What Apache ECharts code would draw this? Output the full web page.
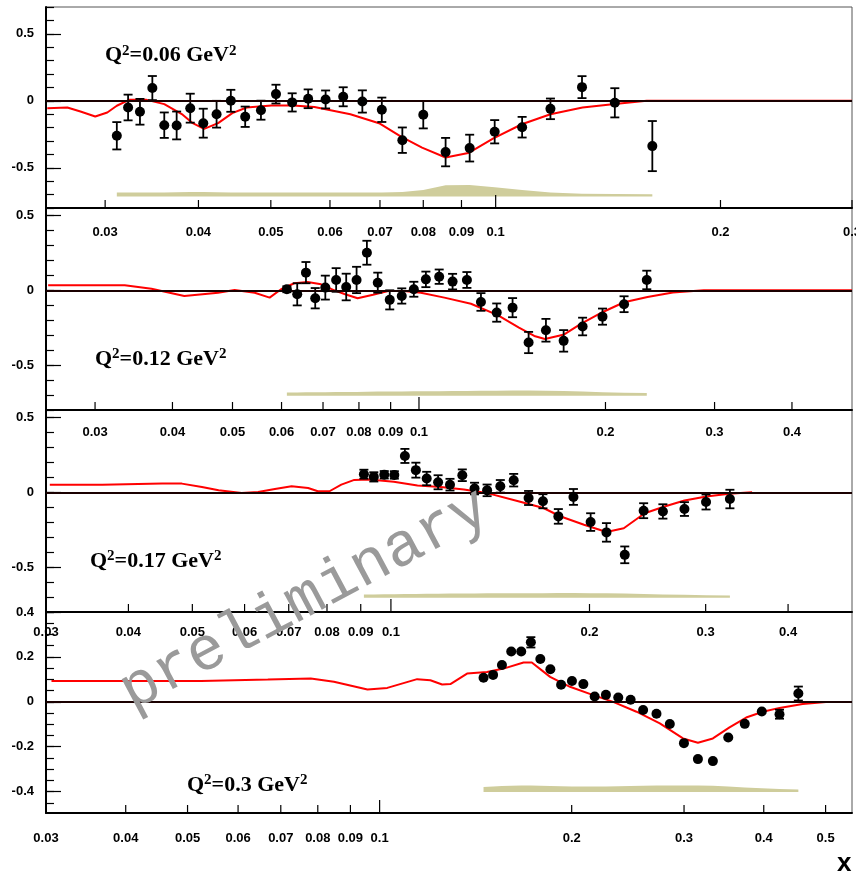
<!DOCTYPE html>
<html>
<head>
<meta charset="utf-8">
<script src="https://cdn.jsdelivr.net/npm/echarts@6/dist/echarts.min.js"></script>
<style>
html, body { margin: 0; padding: 0; background: #fff; }
#chart { width: 856px; height: 875px; }
</style>
</head>
<body>
<div id="chart"></div>
<script>
// ---- Q^2 = 0.06 GeV^2 ----
const P1_X = [0.0311,0.0322,0.0334,0.0347,0.0360,0.0374,0.0390,0.0406,0.0423,0.0442,0.0462,0.0485,0.0508,0.0534,0.0561,0.0592,0.0625,0.0663,0.0704,0.0750,0.0800,0.0857,0.0923,0.0997,0.1085,0.1184,0.1305,0.1444,0.1621];
const P1_Y = [-0.261,-0.050,-0.082,0.095,-0.182,-0.184,-0.055,-0.167,-0.100,0.000,-0.119,-0.070,0.050,-0.012,0.015,0.010,0.030,-0.005,-0.067,-0.294,-0.104,-0.383,-0.353,-0.231,-0.197,-0.060,0.102,-0.015,-0.338];
const P1_ERR = [0.102,0.096,0.096,0.090,0.095,0.104,0.108,0.108,0.100,0.082,0.076,0.071,0.070,0.068,0.070,0.067,0.071,0.083,0.091,0.095,0.102,0.106,0.100,0.087,0.077,0.077,0.082,0.109,0.187];
const P1_CX = [0.0251,0.0267,0.0278,0.0291,0.0302,0.0311,0.0323,0.0341,0.0360,0.0381,0.0393,0.0407,0.0425,0.0444,0.0464,0.0501,0.0536,0.0572,0.0639,0.0698,0.0746,0.0797,0.0857,0.0919,0.0993,0.1084,0.1184,0.1307,0.1444,0.1593,0.3];
const P1_CY = [-0.055,-0.050,-0.080,-0.117,-0.087,-0.037,0.007,0.007,-0.025,-0.104,-0.167,-0.209,-0.167,-0.092,-0.050,-0.035,-0.035,-0.047,-0.100,-0.167,-0.266,-0.350,-0.423,-0.390,-0.280,-0.175,-0.100,-0.050,-0.023,0.000,0.000];
const P1_SYS = [0.03,0.03,0.03,0.03,0.03,0.032,0.035,0.035,0.033,0.03,0.03,0.03,0.03,0.03,0.03,0.03,0.03,0.03,0.03,0.035,0.05,0.085,0.087,0.07,0.05,0.03,0.022,0.02,0.018];
const P1_SYS_BASE = -0.715;

// ---- Q^2 = 0.12 GeV^2 ----
const P2_X = [0.0612,0.0636,0.0657,0.0680,0.0706,0.0735,0.0763,0.0793,0.0824,0.0858,0.0897,0.0938,0.0981,0.1026,0.1078,0.1133,0.1195,0.1259,0.1335,0.1416,0.1503,0.1603,0.1712,0.1837,0.1978,0.2143,0.2332];
const P2_Y = [0.007,-0.027,0.118,-0.053,0.018,0.069,0.022,0.069,0.251,0.051,-0.064,-0.038,0.007,0.073,0.091,0.058,0.069,-0.078,-0.149,-0.116,-0.349,-0.267,-0.338,-0.242,-0.176,-0.093,0.069];
const P2_ERR = [0.020,0.074,0.071,0.068,0.080,0.079,0.089,0.088,0.080,0.067,0.064,0.051,0.050,0.052,0.048,0.052,0.053,0.059,0.061,0.064,0.071,0.076,0.072,0.059,0.054,0.053,0.062];
const P2_CX = [0.0252,0.0335,0.0370,0.0418,0.0474,0.0504,0.0543,0.0574,0.0599,0.0629,0.0661,0.0695,0.0730,0.0758,0.0796,0.0843,0.0895,0.0946,0.1007,0.1099,0.1213,0.1340,0.1450,0.1535,0.1597,0.1716,0.1825,0.1981,0.2143,0.2338,0.2569,0.2882,0.5];
const P2_CY = [0.033,0.033,0.011,-0.038,-0.016,0.002,-0.016,-0.049,0.007,0.047,0.056,0.040,0.000,-0.025,-0.053,-0.030,-0.004,-0.004,-0.017,-0.049,-0.090,-0.166,-0.250,-0.305,-0.325,-0.295,-0.225,-0.145,-0.080,-0.045,-0.015,0.000,0.000];
const P2_SYS = [0.022,0.022,0.023,0.023,0.024,0.025,0.025,0.026,0.027,0.028,0.028,0.029,0.030,0.030,0.031,0.032,0.032,0.033,0.034,0.035,0.035,0.034,0.032,0.028,0.024,0.020,0.018];
const P2_SYS_BASE = -0.705;

// ---- Q^2 = 0.17 GeV^2 ----
const P3_X = [0.0910,0.0942,0.0977,0.1012,0.1050,0.1091,0.1133,0.1179,0.1229,0.1283,0.1339,0.1399,0.1465,0.1535,0.1617,0.1700,0.1794,0.1891,0.2008,0.2122,0.2262,0.2416,0.2584,0.2786,0.3004,0.3265];
const P3_Y = [0.121,0.103,0.117,0.116,0.243,0.148,0.092,0.067,0.051,0.114,0.025,0.013,0.040,0.081,-0.038,-0.060,-0.161,-0.031,-0.199,-0.268,-0.418,-0.123,-0.128,-0.112,-0.065,-0.045];
const P3_ERR = [0.030,0.031,0.025,0.025,0.047,0.050,0.045,0.047,0.039,0.039,0.039,0.039,0.042,0.042,0.047,0.047,0.049,0.053,0.059,0.062,0.056,0.050,0.048,0.046,0.050,0.062];
const P3_CX = [0.0304,0.0365,0.0450,0.0482,0.0517,0.0548,0.0594,0.0629,0.0667,0.0707,0.0749,0.0775,0.0807,0.0841,0.0880,0.0927,0.1010,0.1097,0.1190,0.1290,0.1405,0.1560,0.1703,0.1805,0.1962,0.2122,0.2254,0.2425,0.2599,0.2786,0.3007,0.3257,0.3528];
const P3_CY = [0.051,0.051,0.058,0.058,0.036,0.013,-0.004,0.002,0.022,0.040,0.029,0.007,0.007,0.051,0.083,0.085,0.070,0.045,0.036,0.018,-0.007,-0.060,-0.105,-0.160,-0.217,-0.265,-0.240,-0.140,-0.095,-0.055,-0.028,-0.010,0.000];
const P3_SYS = [0.022,0.022,0.023,0.024,0.025,0.026,0.027,0.027,0.028,0.029,0.029,0.030,0.030,0.030,0.031,0.031,0.032,0.032,0.031,0.030,0.028,0.025,0.022,0.020,0.017,0.015];
const P3_SYS_BASE = -0.705;

// ---- Q^2 = 0.3 GeV^2 ----
const P4_X = [0.1455,0.1506,0.1555,0.1608,0.1667,0.1726,0.1786,0.1852,0.1925,0.2002,0.2086,0.2173,0.2263,0.2366,0.2474,0.2588,0.2716,0.2850,0.2999,0.3154,0.3329,0.3519,0.3735,0.3972,0.4234,0.4532];
const P4_Y = [0.107,0.120,0.164,0.224,0.224,0.265,0.191,0.145,0.076,0.093,0.079,0.024,0.031,0.019,0.009,-0.036,-0.053,-0.099,-0.184,-0.255,-0.264,-0.159,-0.098,-0.043,-0.055,0.037];
const P4_ERR = [0,0,0,0,0,0.023,0,0,0,0,0,0,0,0,0,0,0,0,0,0,0,0,0,0,0.020,0.031];
const P4_CX = [0.0306,0.0525,0.0668,0.0780,0.0848,0.0957,0.1028,0.1145,0.1201,0.1253,0.1291,0.1371,0.1473,0.1564,0.1681,0.1732,0.1850,0.1988,0.2162,0.2323,0.2527,0.2749,0.2989,0.3154,0.3329,0.3535,0.3754,0.3987,0.4234,0.4603,0.5006];
const P4_CY = [0.093,0.093,0.099,0.104,0.089,0.055,0.062,0.101,0.096,0.077,0.079,0.126,0.133,0.148,0.175,0.175,0.111,0.067,0.030,0.000,-0.044,-0.096,-0.163,-0.182,-0.163,-0.114,-0.070,-0.044,-0.027,-0.010,-0.001];
const P4_SYS = [0.022,0.024,0.026,0.027,0.028,0.028,0.027,0.026,0.025,0.024,0.024,0.024,0.024,0.025,0.026,0.027,0.028,0.028,0.028,0.028,0.027,0.024,0.020,0.016,0.013,0.011];
const P4_SYS_BASE = -0.401;

// ---- labels and axis ticks ----
const Q2_LABELS = ['0.06', '0.12', '0.17', '0.3'];
const X_TICKS_1 = [0.03,0.04,0.05,0.06,0.07,0.08,0.09,0.1,0.2,0.3];
const X_TICKS_2 = [0.03,0.04,0.05,0.06,0.07,0.08,0.09,0.1,0.2,0.3,0.4];
const X_TICKS_3 = [0.03,0.04,0.05,0.06,0.07,0.08,0.09,0.1,0.2,0.3,0.4];
const X_TICKS_4 = [0.03,0.04,0.05,0.06,0.07,0.08,0.09,0.1,0.2,0.3,0.4,0.5];
const Y_TICKS_A = [-0.5, 0, 0.5];
const Y_TICKS_B = [-0.4, -0.2, 0, 0.2, 0.4];

function steps(lo, hi, step) {
  const out = [];
  const n = Math.round((hi - lo) / step);
  for (let k = 0; k <= n; k++) out.push(+(lo + k * step).toFixed(4));
  return out;
}

// panel layout (pixels) and axis ranges; qy is the baseline of the Q^2 label
const PANELS = [
  { x: P1_X, y: P1_Y, err: P1_ERR, cx: P1_CX, cy: P1_CY, sys: P1_SYS, sysBase: P1_SYS_BASE,
    xr: [0.025, 0.3], yr: [-0.8, 0.7], xt: X_TICKS_1, yt: Y_TICKS_A, ym: steps(-0.8, 0.7, 0.1),
    top: 7, h: 201, gap: 24, q: Q2_LABELS[0], qx: 105, qy: 62 },
  { x: P2_X, y: P2_Y, err: P2_ERR, cx: P2_CX, cy: P2_CY, sys: P2_SYS, sysBase: P2_SYS_BASE,
    xr: [0.025, 0.5], yr: [-0.8, 0.55], xt: X_TICKS_2, yt: Y_TICKS_A, ym: steps(-0.8, 0.5, 0.1),
    top: 208, h: 202, gap: 22, q: Q2_LABELS[1], qx: 95, qy: 365.5 },
  { x: P3_X, y: P3_Y, err: P3_ERR, cx: P3_CX, cy: P3_CY, sys: P3_SYS, sysBase: P3_SYS_BASE,
    xr: [0.03, 0.5], yr: [-0.8, 0.55], xt: X_TICKS_3, yt: Y_TICKS_A, ym: steps(-0.8, 0.5, 0.1),
    top: 410, h: 202, gap: 20, q: Q2_LABELS[2], qx: 90, qy: 567.5 },
  { x: P4_X, y: P4_Y, err: P4_ERR, cx: P4_CX, cy: P4_CY, sys: P4_SYS, sysBase: P4_SYS_BASE,
    xr: [0.03, 0.55], yr: [-0.495, 0.4], xt: X_TICKS_4, yt: Y_TICKS_B, ym: steps(-0.45, 0.4, 0.05),
    top: 612, h: 201, gap: 25, q: Q2_LABELS[3], qx: 187, qy: 791.5 }
];

const BAND_COLOR = '#cfcd9c';
const FONT_SANS = '"Liberation Sans", Arial, sans-serif';
const FONT_SERIF = '"Liberation Serif", "Times New Roman", serif';

const grids = [], xAxes = [], yAxes = [], series = [], graphics = [];

PANELS.forEach(function (P, i) {
  grids.push({
    left: 46, right: 4, top: P.top, height: P.h,
    show: true, borderColor: '#555', borderWidth: 1, backgroundColor: 'transparent',
    containLabel: false, outerBoundsMode: 'none'
  });
  xAxes.push({
    gridIndex: i, type: 'log', logBase: 10, min: P.xr[0], max: P.xr[1],
    axisLine: { show: true, onZero: false, lineStyle: { color: '#000', width: 2 } },
    axisTick: { show: false }, axisLabel: { show: false }, splitLine: { show: false }
  });
  // major ticks with labels
  yAxes.push({
    gridIndex: i, type: 'value', min: P.yr[0], max: P.yr[1], position: 'left',
    axisLine: { show: true, onZero: false, lineStyle: { color: '#000', width: 2 } },
    axisTick: { show: true, inside: true, length: 15, customValues: P.yt, lineStyle: { color: '#000', width: 1.2 } },
    axisLabel: { show: true, customValues: P.yt, margin: 12, color: '#000', fontFamily: FONT_SANS, fontWeight: 'bold', fontSize: 13 },
    splitLine: { show: false }
  });
  // minor ticks
  yAxes.push({
    gridIndex: i, type: 'value', min: P.yr[0], max: P.yr[1], position: 'left',
    axisLine: { show: false, onZero: false },
    axisTick: { show: true, inside: true, length: 8, customValues: P.ym, lineStyle: { color: '#000', width: 1.2 } },
    axisLabel: { show: false }, splitLine: { show: false }
  });

  const yi = 2 * i;

  // systematic uncertainty band
  series.push({
    type: 'line', xAxisIndex: i, yAxisIndex: yi, silent: true, z: 1,
    data: P.x.map(function (v, k) { return [v, P.sysBase + P.sys[k]]; }),
    symbol: 'none', showSymbol: false,
    lineStyle: { width: 0, color: BAND_COLOR },
    areaStyle: { color: BAND_COLOR, opacity: 1, origin: P.sysBase }
  });

  // model curve, plus the zero reference line
  series.push({
    type: 'line', xAxisIndex: i, yAxisIndex: yi, silent: true, z: 3,
    data: P.cx.map(function (v, k) { return [v, P.cy[k]]; }),
    symbol: 'none', showSymbol: false, smooth: false,
    lineStyle: { color: '#ff0000', width: 2 },
    markLine: {
      silent: true, symbol: ['none', 'none'], label: { show: false }, animation: false,
      lineStyle: { color: '#1a0000', width: 2, type: 'solid' },
      data: [{ yAxis: 0 }]
    }
  });

  // statistical error bars (skipped where smaller than the marker)
  series.push({
    type: 'custom', xAxisIndex: i, yAxisIndex: yi, silent: true, z: 4,
    data: P.x.map(function (v, k) { return [v, P.y[k], P.err[k]]; }),
    encode: { x: 0, y: 1 },
    renderItem: function (params, api) {
      const xv = api.value(0), yv = api.value(1), e = api.value(2);
      if (!(e > 0)) return { type: 'group', children: [] };
      const a = api.coord([xv, yv + e]);
      const b = api.coord([xv, yv - e]);
      const w = 4.5;
      function seg(x1, y1, x2, y2) {
        return { type: 'line', shape: { x1: x1, y1: y1, x2: x2, y2: y2 }, style: { stroke: '#000', lineWidth: 1.8 } };
      }
      return { type: 'group', children: [
        seg(a[0], a[1], b[0], b[1]),
        seg(a[0] - w, a[1], a[0] + w, a[1]),
        seg(b[0] - w, b[1], b[0] + w, b[1])
      ] };
    }
  });

  // data points
  series.push({
    type: 'scatter', xAxisIndex: i, yAxisIndex: yi, silent: true, z: 5,
    symbol: 'circle', symbolSize: 10, itemStyle: { color: '#000', opacity: 1 },
    data: P.x.map(function (v, k) { return [v, P.y[k]]; })
  });

  // x-axis ticks and labels placed on the log scale
  const gap = P.gap;
  series.push({
    type: 'custom', xAxisIndex: i, yAxisIndex: yi, silent: true, clip: false, z: 6,
    data: P.xt.map(function (v) { return [v, 0]; }),
    encode: { x: 0, y: 1 },
    renderItem: function (params, api) {
      const v = api.value(0);
      const p = api.coord([v, 0]);
      const cs = params.coordSys;
      const yb = cs.y + cs.height;
      const len = Math.abs(v - 0.1) < 1e-9 ? 13 : 8;
      return { type: 'group', children: [
        { type: 'line', shape: { x1: p[0], y1: yb, x2: p[0], y2: yb - len }, style: { stroke: '#000', lineWidth: 1.2 } },
        { type: 'text', x: p[0], y: yb + gap, style: {
            text: String(v), align: 'center', verticalAlign: 'middle',
            fontFamily: FONT_SANS, fontWeight: 'bold', fontSize: 13, fill: '#000' } }
      ] };
    }
  });

  // Q^2 label, superscripts raised above the baseline
  graphics.push({
    type: 'text', x: P.qx, y: P.qy + 4.5, silent: true, z: 50,
    style: {
      text: '{q|Q}{s|2}{q|=' + P.q + ' GeV}{s|2}',
      verticalAlign: 'bottom',
      rich: {
        q: { fontFamily: FONT_SERIF, fontWeight: 'bold', fontSize: 22, fill: '#000', verticalAlign: 'bottom' },
        s: { fontFamily: FONT_SERIF, fontWeight: 'bold', fontSize: 15, fill: '#000', verticalAlign: 'bottom', padding: [0, 0, 8, 0] }
      }
    }
  });
});

graphics.push({
  type: 'text', x: 305, y: 600, rotation: 0.49, silent: true, z: 100,
  style: { text: 'preliminary', fontFamily: '"Liberation Mono", "Courier New", monospace', fontSize: 62,
           fill: '#9a9a9a', align: 'center', verticalAlign: 'middle' }
});
graphics.push({
  type: 'text', x: 837, y: 851, silent: true, z: 50,
  style: { text: 'x', fontFamily: FONT_SANS, fontWeight: 'bold', fontSize: 26, fill: '#000' }
});

const chart = echarts.init(document.getElementById('chart'), null, { renderer: 'canvas' });
chart.setOption({
  animation: false,
  backgroundColor: '#fff',
  grid: grids,
  xAxis: xAxes,
  yAxis: yAxes,
  series: series,
  graphic: graphics
});
</script>
</body>
</html>
